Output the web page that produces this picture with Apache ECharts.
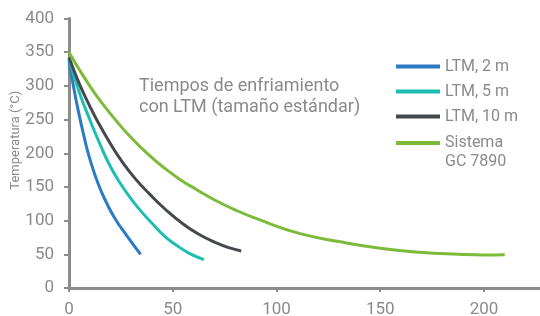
<!DOCTYPE html>
<html>
<head>
<meta charset="utf-8">
<script src="https://cdn.jsdelivr.net/npm/echarts@6/dist/echarts.min.js"></script>
<style>
    html, body { margin: 0; padding: 0; background: #fff; }
    #main { width: 540px; height: 316px; }
</style>
</head>
<body>
<div id="main"></div>
<script>
// datos ----------------------------------------------------------------
var blueX = [0, 2, 4, 7, 10, 14, 18, 22, 28, 34.5];
var blueY = [338, 302, 270, 228, 192, 155, 127, 104, 77, 50];

var tealX = [0, 5, 10, 15, 20, 25, 30, 35, 40, 46, 52, 58, 65];
var tealY = [340, 290, 250, 213, 180, 154, 132, 113, 96, 77, 63, 51.5, 42];

var grayX = [0, 5, 10, 14, 20, 25, 32, 39, 46, 55, 63, 71, 77, 83];
var grayY = [342, 303, 270, 246, 214, 190, 162, 139, 118, 95, 79, 67, 60, 55];

var greenX = [0, 5, 10, 15, 22, 30, 39, 46, 54, 61, 70, 80, 92, 111, 130, 150, 169, 188, 200, 210];
var greenY = [350, 324, 300, 278, 251, 223, 196, 178, 160, 147, 131, 116, 101, 81, 69, 59, 53, 50, 49, 49.5];

var seriesNames = ['LTM, 2 m', 'LTM, 5 m', 'LTM, 10 m', 'Sistema GC 7890'];
var xTicks = [0, 50, 100, 150, 200];

function pairs(xs, ys) {
    var out = [];
    for (var i = 0; i < xs.length; i++) {
        out.push([xs[i], ys[i]]);
    }
    return out;
}

var gris = '#8a8a8a';
var ejeColor = '#8c8c8c';
var fuente = 'Roboto';

var myChart = echarts.init(document.getElementById('main'));

function linea(name, xs, ys, color) {
    return {
        name: name,
        type: 'line',
        smooth: 0.5,
        showSymbol: false,
        data: pairs(xs, ys),
        lineStyle: { color: color, width: 3 },
        itemStyle: { color: color }
    };
}

var option = {
    animation: false,
    textStyle: { fontFamily: fuente },
    grid: {
        left: 69,
        right: 0,
        top: 18.5,
        bottom: 28,
        outerBoundsMode: 'none'
    },
    title: {
        text: 'Tiempos de enfriamiento\ncon LTM (tamaño estándar)',
        left: 139,
        top: 76,
        padding: 0,
        textStyle: {
            fontFamily: fuente,
            fontSize: 18,
            fontWeight: 'normal',
            color: gris,
            lineHeight: 21
        }
    },
    legend: [
        {
            data: seriesNames.slice(0, 3),
            orient: 'vertical',
            left: 396,
            top: 57,
            padding: 0,
            itemGap: 6,
            itemWidth: 44,
            itemHeight: 4,
            icon: 'rect',
            textStyle: { fontFamily: fuente, fontSize: 16, color: gris, lineHeight: 19 }
        },
        {
            // linea vacia arriba para que "Sistema" quede a la altura del icono
            data: [seriesNames[3]],
            orient: 'vertical',
            left: 396,
            top: 114.5,
            padding: 0,
            itemWidth: 44,
            itemHeight: 4,
            icon: 'rect',
            formatter: function (name) {
                return '\nSistema\nGC 7890';
            },
            textStyle: { fontFamily: fuente, fontSize: 16, color: gris, lineHeight: 19 }
        }
    ],
    xAxis: {
        type: 'value',
        min: 0,
        max: 227,
        splitLine: { show: false },
        axisLine: { show: true, lineStyle: { color: ejeColor, width: 3 } },
        axisTick: { show: true, length: 4, lineStyle: { color: ejeColor, width: 2 }, customValues: xTicks },
        axisLabel: { color: gris, fontSize: 17, margin: 13, customValues: xTicks }
    },
    yAxis: {
        type: 'value',
        min: 0,
        max: 400,
        interval: 50,
        name: 'Temperatura (°C)',
        nameLocation: 'middle',
        nameGap: 47,
        nameMoveOverlap: false,
        nameTextStyle: { color: gris, fontSize: 13, fontFamily: fuente, padding: [0, 0, 0, 26] },
        splitLine: { show: false },
        axisLine: { show: true, lineStyle: { color: ejeColor, width: 3 } },
        axisTick: { show: true, length: 5, lineStyle: { color: ejeColor, width: 2 } },
        axisLabel: { color: gris, fontSize: 17, margin: 15 }
    },
    series: [
        linea(seriesNames[0], blueX, blueY, '#2b7bc4'),
        linea(seriesNames[1], tealX, tealY, '#1cbdb2'),
        linea(seriesNames[2], grayX, grayY, '#45484d'),
        linea(seriesNames[3], greenX, greenY, '#7cbb3a')
    ]
};
option && myChart.setOption(option);
</script>
</body>
</html>
